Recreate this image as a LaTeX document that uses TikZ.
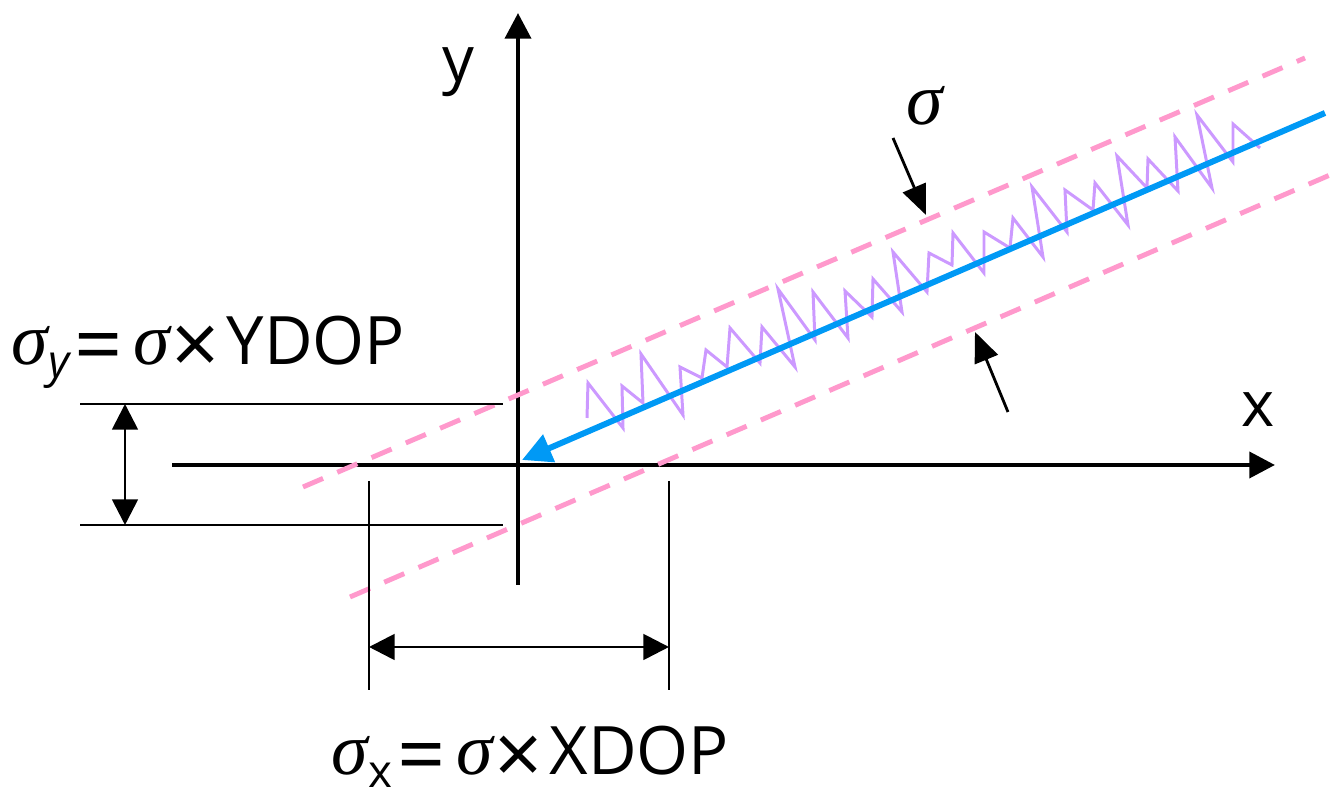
\documentclass[tikz,border=0pt]{standalone}
\usepackage{fontspec}
\setmainfont{Open Sans}
\newfontfamily\sigfont{Liberation Serif}
\usetikzlibrary{arrows.meta}
\definecolor{rayblue}{RGB}{0,153,245}
\definecolor{bandpink}{RGB}{255,153,204}
\definecolor{noisepurple}{RGB}{204,153,255}
\newcommand{\sg}{{\sigfont\itshape\fontsize{21}{22}\selectfont σ}}
\newcommand{\sgsub}[1]{\raisebox{-3.6pt}{\fontsize{13}{14}\selectfont #1}}
\newcommand{\bigop}[1]{\raisebox{-2.8pt}[\height][0pt]{\fontsize{24}{24}\selectfont #1}}

\begin{document}
\begin{tikzpicture}[
    x=0.01cm, y=-0.01cm,
    axis/.style={line width=1.35pt, -{Triangle[length=7.3pt,width=7.3pt]}},
    dim/.style={line width=0.6pt},
    dimarrow/.style={line width=0.8pt, {Triangle[length=7.3pt,width=7.3pt]}-{Triangle[length=7.3pt,width=7.3pt]}},
    pointer/.style={line width=0.8pt, -{Triangle[length=8.5pt,width=7pt]}},
    ray/.style={line width=1.7pt, rayblue, -{Triangle[length=8.4pt,width=8.2pt]}},
    band/.style={line width=1.4pt, bandpink, dash pattern=on 6.2pt off 4.4pt},
    noise/.style={line width=0.85pt, noisepurple, line join=miter},
    lbl/.style={font=\fontsize{18}{20}\selectfont, inner sep=0pt},
    formula/.style={font=\fontsize{19}{21}\selectfont, inner sep=0pt, anchor=base west},
]
\useasboundingbox (0,0) rectangle (1335,795);

% Achsen
\coordinate (O) at (518,465);
\coordinate (xs) at (172,465);
\coordinate (xe) at (1275,465);
\coordinate (ys) at (518,585);
\coordinate (ye) at (518,13);
\draw[axis] (xs) -- (xe);
\draw[axis] (ys) -- (ye);
\node[lbl] (ylabel) at (458,72) {y};
\node[lbl] (xlabel) at (1258,410) {x};

% Streuband
\coordinate (bu1) at (303,487);
\coordinate (bu2) at (1305,58);
\coordinate (bl1) at (350,597);
\coordinate (bl2) at (1330,175);
\draw[band] (bu1) -- (bu2);
\draw[band] (bl1) -- (bl2);

% Messrauschen
\draw[noise] plot coordinates {
  (587,418) (588,383) (623,428) (622,386) (643,403) (641,354) (683,415)
  (680,367) (702,378) (706,350) (727,367) (730,328) (760,363) (762,327)
  (795,367) (778,289) (815,340) (813,292) (848,338) (845,291) (872,317)
  (873,279) (902,312) (893,252) (927,292) (929,253) (952,265) (953,233)
  (984,273) (984,232) (1010,248) (1013,218) (1043,257) (1032,187)
  (1067,232) (1065,190) (1093,210) (1095,183) (1128,225) (1117,156)
  (1147,188) (1148,159) (1178,191) (1175,137) (1212,188) (1197,115)
  (1233,162) (1233,124) (1260,148)};

% Strahl
\coordinate (rs) at (1325,113);
\coordinate (rt) at (522,460);
\draw[ray] (rs) -- (rt);

% Sigma-Pfeile
\node[lbl] (sig) at (925,106) {\sg};
\coordinate (p1s) at (893,138);
\coordinate (p1t) at (926,215);
\coordinate (p2s) at (1008,412);
\coordinate (p2t) at (975,332);
\draw[pointer] (p1s) -- (p1t);
\draw[pointer] (p2s) -- (p2t);

% Bemassung y
\coordinate (hu1) at (80,404);
\coordinate (hu2) at (503,404);
\coordinate (hl1) at (80,525);
\coordinate (hl2) at (503,525);
\coordinate (dyu) at (125,404);
\coordinate (dyl) at (125,525);
\draw[dim] (hu1) -- (hu2);
\draw[dim] (hl1) -- (hl2);
\draw[dimarrow] (dyu) -- (dyl);
\node[formula] (sigy) at (11,365) {\sg\sgsub{\itshape y}\hspace{1.5pt}\bigop{=}\hspace{3pt}\sg\hspace{0.5pt}\bigop{×}\hspace{2pt}YDOP};

% Bemassung x
\coordinate (vl1) at (369,481);
\coordinate (vl2) at (369,690);
\coordinate (vr1) at (669,481);
\coordinate (vr2) at (669,690);
\coordinate (dxl) at (369,647);
\coordinate (dxr) at (669,647);
\draw[dim] (vl1) -- (vl2);
\draw[dim] (vr1) -- (vr2);
\draw[dimarrow] (dxl) -- (dxr);
\node[formula] (sigx) at (331,775) {\sg\sgsub{x}\hspace{1.5pt}\bigop{=}\hspace{3pt}\sg\hspace{0.5pt}\bigop{×}\hspace{2pt}XDOP};
\end{tikzpicture}
\end{document}
